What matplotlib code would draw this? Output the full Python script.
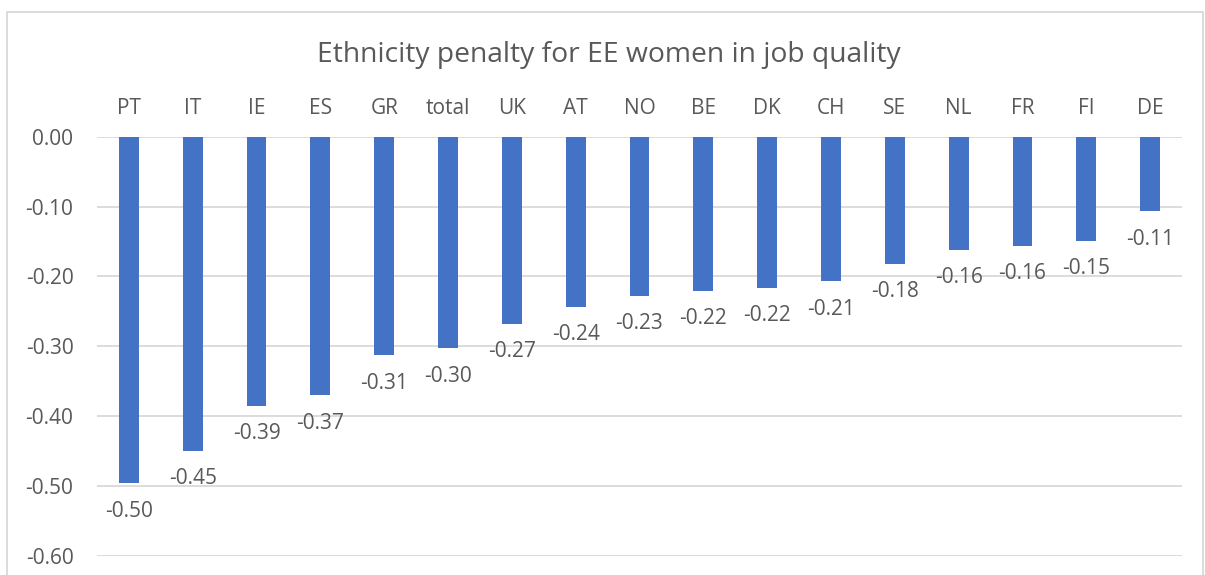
import matplotlib
matplotlib.use("Agg")
import matplotlib.pyplot as plt
from matplotlib.patches import Rectangle

categories = ["PT", "IT", "IE", "ES", "GR", "total", "UK", "AT", "NO", "BE",
              "DK", "CH", "SE", "NL", "FR", "FI", "DE"]
values = [-0.496, -0.450, -0.385, -0.370, -0.313, -0.303, -0.268, -0.243, -0.228,
          -0.221, -0.216, -0.207, -0.182, -0.162, -0.156, -0.149, -0.107]
yticks = [0.0, -0.1, -0.2, -0.3, -0.4, -0.5, -0.6]
title = "Ethnicity penalty for EE women in job quality"

plt.rcParams['font.family'] = ['Open Sans', 'DejaVu Sans']
TXT = "#595959"
GRID = "#D9D9D9"
BAR = "#4472C4"

W, H = 1205, 575
fig = plt.figure(figsize=(W / 100, H / 100), dpi=100)
ax = fig.add_axes([97 / W, 1 - 556 / H, (1182 - 97) / W, (556 - 136.7) / H])

x = list(range(len(categories)))
ax.bar(x, values, width=0.31, color=BAR, zorder=3)
ax.set_xlim(-0.5, len(categories) - 0.5)
ax.set_ylim(-0.6, 0.0)

ax.set_yticks(yticks)
ax.set_yticklabels([f"{v:.2f}" if v != 0 else "0.00" for v in yticks])
ax.yaxis.grid(True, color=GRID, linewidth=1.3, zorder=0)
ax.set_axisbelow(True)
for s in ax.spines.values():
    s.set_visible(False)
ax.tick_params(axis='y', length=0, pad=17, labelsize=15, labelcolor=TXT)

ax.xaxis.tick_top()
ax.set_xticks(x)
ax.set_xticklabels(categories)
ax.tick_params(axis='x', length=0, pad=13, labelsize=15, labelcolor=TXT)

for xi, v in zip(x, values):
    ax.annotate(f"{v:.2f}", (xi, v), xytext=(0, -20), textcoords="offset points",
                ha="center", va="center", fontsize=15, color=TXT)

fig.text(609 / W, 1 - 55 / H, title, ha="center", va="center",
         fontsize=20.3, color=TXT)

fig.patches.append(Rectangle((7 / W, -0.05), (1203 - 7) / W, 1 - 12 / H + 0.05,
                             transform=fig.transFigure, fill=False,
                             edgecolor=GRID, linewidth=1.3))

fig.savefig("out.png", dpi=100, facecolor="white")
